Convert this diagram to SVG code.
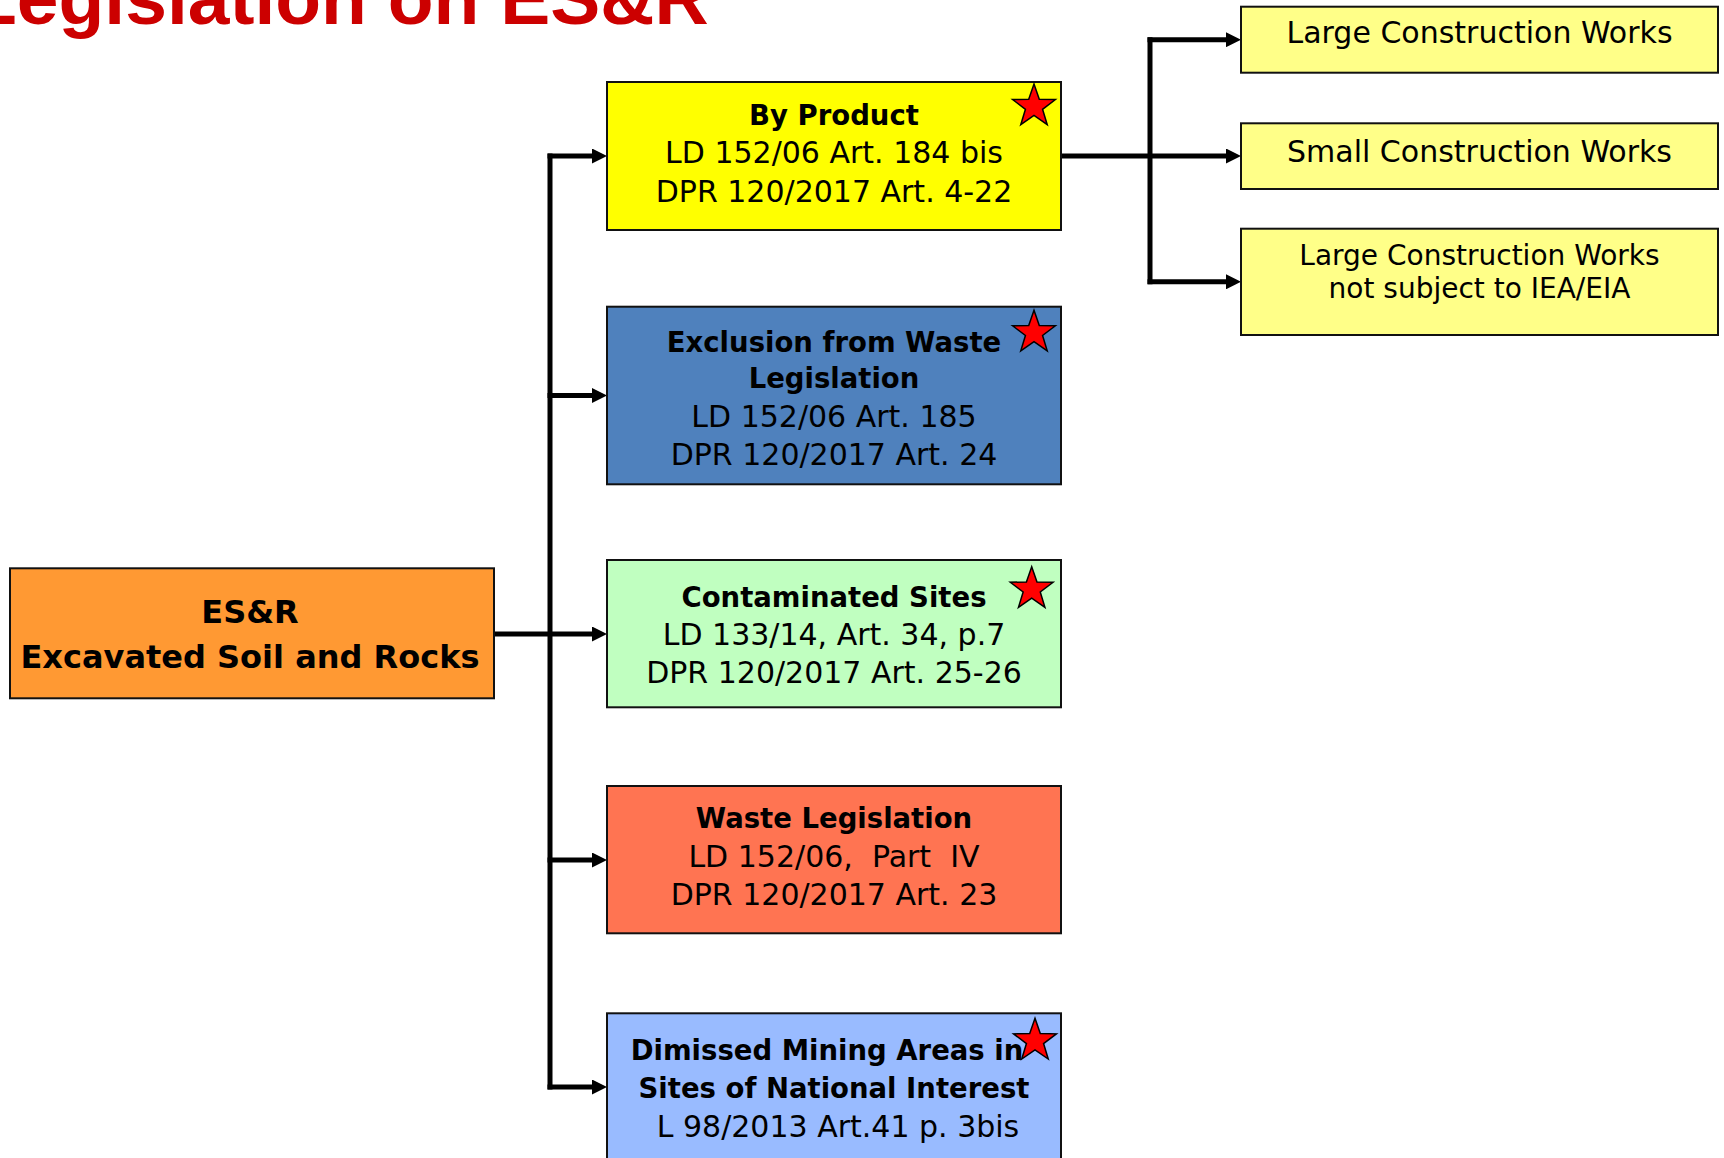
<svg xmlns="http://www.w3.org/2000/svg" xmlns:xlink="http://www.w3.org/1999/xlink" width="1724" height="1158" viewBox="0 0 1724 1158">
<style>
.box{stroke:#111;stroke-width:2}
.t{font-family:"Comic Sans MS","DejaVu Sans",sans-serif;font-size:30px;fill:#000;text-anchor:middle}
.b{font-weight:bold;font-size:27.5px}
.line{stroke:#000;stroke-width:5;fill:none}
.title{font-family:"Liberation Sans",Arial,sans-serif;font-weight:bold;font-size:75px;fill:#CC0000}
</style>
<defs>
<marker id="arr" viewBox="0 0 15 15" refX="5" refY="7.5" markerWidth="15" markerHeight="15" markerUnits="userSpaceOnUse" orient="auto">
<path d="M0,0 L15,7.5 L0,15 Z" fill="#000"/>
</marker>
<path id="star" d="M0,-22.5 L5.29,-7.28 L21.4,-6.95 L8.56,2.78 L13.23,18.2 L0,9 L-13.23,18.2 L-8.56,2.78 L-21.4,-6.95 L-5.29,-7.28 Z" fill="#FF0000" stroke="#000" stroke-width="1.5" stroke-linejoin="miter"/>
</defs>
<rect width="1724" height="1158" fill="#fff"/>
<text class="title" x="-29" y="24">Legislation on ES&amp;R</text>

<g id="connectors">
<line class="line" x1="550" y1="153.5" x2="550" y2="1089.5"/>
<line class="line" x1="547.5" y1="156" x2="597" y2="156" marker-end="url(#arr)"/>
<line class="line" x1="547.5" y1="395.5" x2="597" y2="395.5" marker-end="url(#arr)"/>
<line class="line" x1="494" y1="634" x2="597" y2="634" marker-end="url(#arr)"/>
<line class="line" x1="547.5" y1="860" x2="597" y2="860" marker-end="url(#arr)"/>
<line class="line" x1="547.5" y1="1087" x2="597" y2="1087" marker-end="url(#arr)"/>
<line class="line" x1="1150" y1="37.2" x2="1150" y2="284.3"/>
<line class="line" x1="1061" y1="156" x2="1231" y2="156" marker-end="url(#arr)"/>
<line class="line" x1="1147.5" y1="39.7" x2="1231" y2="39.7" marker-end="url(#arr)"/>
<line class="line" x1="1147.5" y1="281.8" x2="1231" y2="281.8" marker-end="url(#arr)"/>
</g>

<g id="esr">
<rect class="box" x="10" y="568.3" width="484" height="130" fill="#FF9933"/>
<text class="t b" style="font-size:32px" x="250" y="623">ES&amp;R</text>
<text class="t b" style="font-size:32px" x="250" y="668">Excavated Soil and Rocks</text>
</g>

<g id="byproduct">
<rect class="box" x="607" y="82" width="454" height="148" fill="#FFFF00"/>
<text class="t b" x="834" y="125">By Product</text>
<text class="t" x="834" y="162.7">LD 152/06 Art. 184 bis</text>
<text class="t" x="834" y="201.7">DPR 120/2017 Art. 4-22</text>
<use xlink:href="#star" href="#star" x="1034" y="106.5"/>
</g>

<g id="exclusion">
<rect class="box" x="607" y="306.7" width="454" height="177.6" fill="#4F81BD"/>
<text class="t b" x="834" y="351.7">Exclusion from Waste</text>
<text class="t b" x="834" y="388.3">Legislation</text>
<text class="t" x="834" y="426.7">LD 152/06 Art. 185</text>
<text class="t" x="834" y="465">DPR 120/2017 Art. 24</text>
<use xlink:href="#star" href="#star" x="1034" y="332.7"/>
</g>

<g id="contaminated">
<rect class="box" x="607" y="560" width="454" height="147.3" fill="#C0FFC0"/>
<text class="t b" x="834" y="606.7">Contaminated Sites</text>
<text class="t" x="834" y="645">LD 133/14, Art. 34, p.7</text>
<text class="t" x="834" y="682.7">DPR 120/2017 Art. 25-26</text>
<use xlink:href="#star" href="#star" x="1031.7" y="589.2"/>
</g>

<g id="waste">
<rect class="box" x="607" y="786" width="454" height="147.3" fill="#FF7452"/>
<text class="t b" x="834" y="828.3">Waste Legislation</text>
<text class="t" x="834" y="866.7" xml:space="preserve">LD 152/06,  Part  IV</text>
<text class="t" x="834" y="905">DPR 120/2017 Art. 23</text>
</g>

<g id="mining">
<rect class="box" x="607" y="1013.3" width="454" height="170" fill="#99BBFF"/>
<text class="t b" x="827" y="1060">Dimissed Mining Areas in</text>
<text class="t b" x="834" y="1098.3">Sites of National Interest</text>
<text class="t" x="838" y="1136.7">L 98/2013 Art.41 p. 3bis</text>
<use xlink:href="#star" href="#star" x="1035" y="1040.8"/>
</g>

<g id="large1">
<rect class="box" x="1241" y="6.7" width="477" height="66" fill="#FFFF88"/>
<text class="t" x="1479.5" y="43.3">Large Construction Works</text>
</g>

<g id="small">
<rect class="box" x="1241" y="123.3" width="477" height="65.7" fill="#FFFF88"/>
<text class="t" x="1479.5" y="161.7">Small Construction Works</text>
</g>

<g id="large2">
<rect class="box" x="1241" y="228.7" width="477" height="106.3" fill="#FFFF88"/>
<text class="t" style="font-size:28px" x="1479.5" y="265">Large Construction Works</text>
<text class="t" style="font-size:28px" x="1479.5" y="298">not subject to IEA/EIA</text>
</g>
</svg>
